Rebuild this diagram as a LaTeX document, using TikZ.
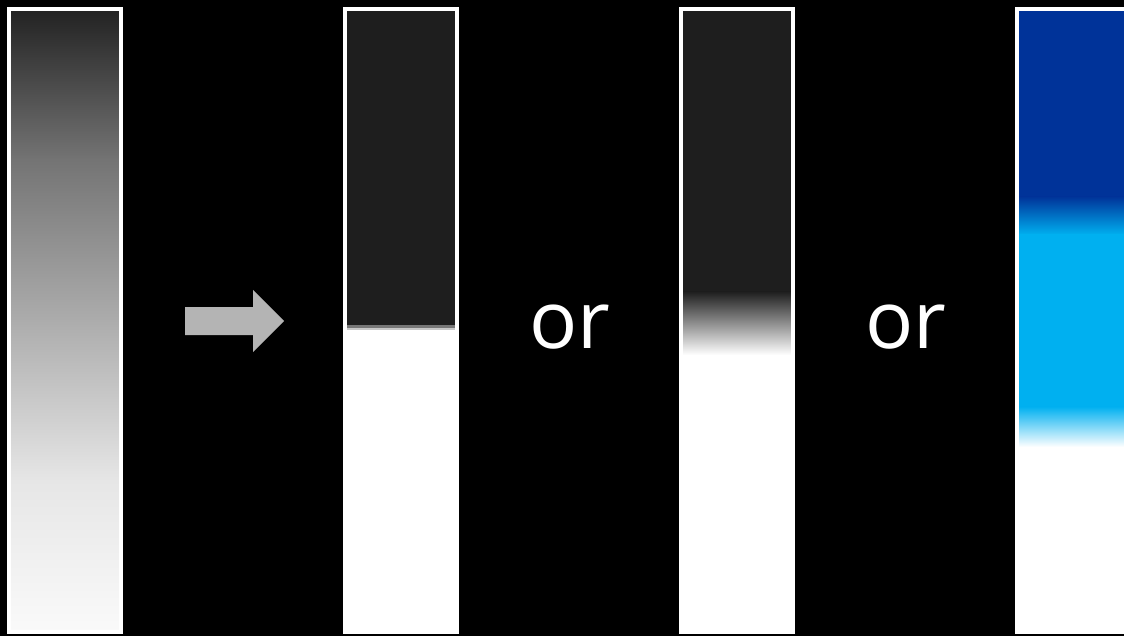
\documentclass[tikz,border=0pt]{standalone}
\usepackage{fontspec}
\setmainfont{Open Sans}
\definecolor{bar-dark}{HTML}{1E1E1E}
\definecolor{grad-a}{HTML}{222222}
\definecolor{grad-b}{HTML}{747474}
\definecolor{grad-c}{HTML}{ACACAC}
\definecolor{grad-d}{HTML}{E6E6E6}
\definecolor{grad-e}{HTML}{FAFAFA}
\definecolor{edge-mid}{HTML}{777777}
\definecolor{edge-light}{HTML}{C8C8C8}
\definecolor{arrow-gray}{HTML}{B4B4B4}
\definecolor{deep-blue}{HTML}{003399}
\definecolor{sky-blue}{HTML}{00B0F0}

\begin{document}
\begin{tikzpicture}[x=1pt, y=-1pt]

  % Global Style Definitions
  \tikzset{
    frame/.style={draw=white, line width=4pt},
    ortext/.style={text=white, font=\fontsize{80}{80}\selectfont, inner sep=0pt, anchor=base}
  }

  % Background and page size
  \useasboundingbox (0,0) rectangle (1124,636);
  \fill[black] (-6,-6) rectangle (1130,642);
  \clip (0,0) rectangle (1124,636);

  % Bar 1: smooth gradient
  \shade[top color=grad-a, bottom color=grad-b] (9,9) rectangle (121,160.5);
  \shade[top color=grad-b, bottom color=grad-c] (9,160) rectangle (121,320.5);
  \shade[top color=grad-c, bottom color=grad-d] (9,320) rectangle (121,480.5);
  \shade[top color=grad-d, bottom color=grad-e] (9,480) rectangle (121,632);
  \draw[frame] (9,9) rectangle (121,632);

  % Arrow
  \fill[arrow-gray] (185,307) -- (253,307) -- (253,290) -- (284,321)
    -- (253,352) -- (253,335) -- (185,335) -- cycle;

  % Bar 2: hard threshold
  \fill[white] (345,9) rectangle (457,632);
  \fill[bar-dark] (345,9) rectangle (457,325);
  \fill[edge-mid] (345,325) rectangle (457,328);
  \fill[edge-light] (345,328) rectangle (457,330);
  \draw[frame] (345,9) rectangle (457,632);

  \node (or1) [ortext] at (570,348) {or};

  % Bar 3: soft threshold
  \fill[white] (681,9) rectangle (793,632);
  \fill[bar-dark] (681,9) rectangle (793,292);
  \shade[top color=bar-dark, bottom color=white] (681,291.5) rectangle (793,355);
  \draw[frame] (681,9) rectangle (793,632);

  \node (or2) [ortext] at (906,348) {or};

  % Bar 4: colour bands
  \fill[white] (1017,9) rectangle (1140,632);
  \fill[deep-blue] (1017,9) rectangle (1140,197);
  \shade[top color=deep-blue, bottom color=sky-blue] (1017,196.5) rectangle (1140,235);
  \fill[sky-blue] (1017,234.5) rectangle (1140,407);
  \shade[top color=sky-blue, bottom color=white] (1017,406.5) rectangle (1140,447);
  \draw[frame] (1017,9) rectangle (1140,632);

\end{tikzpicture}
\end{document}
